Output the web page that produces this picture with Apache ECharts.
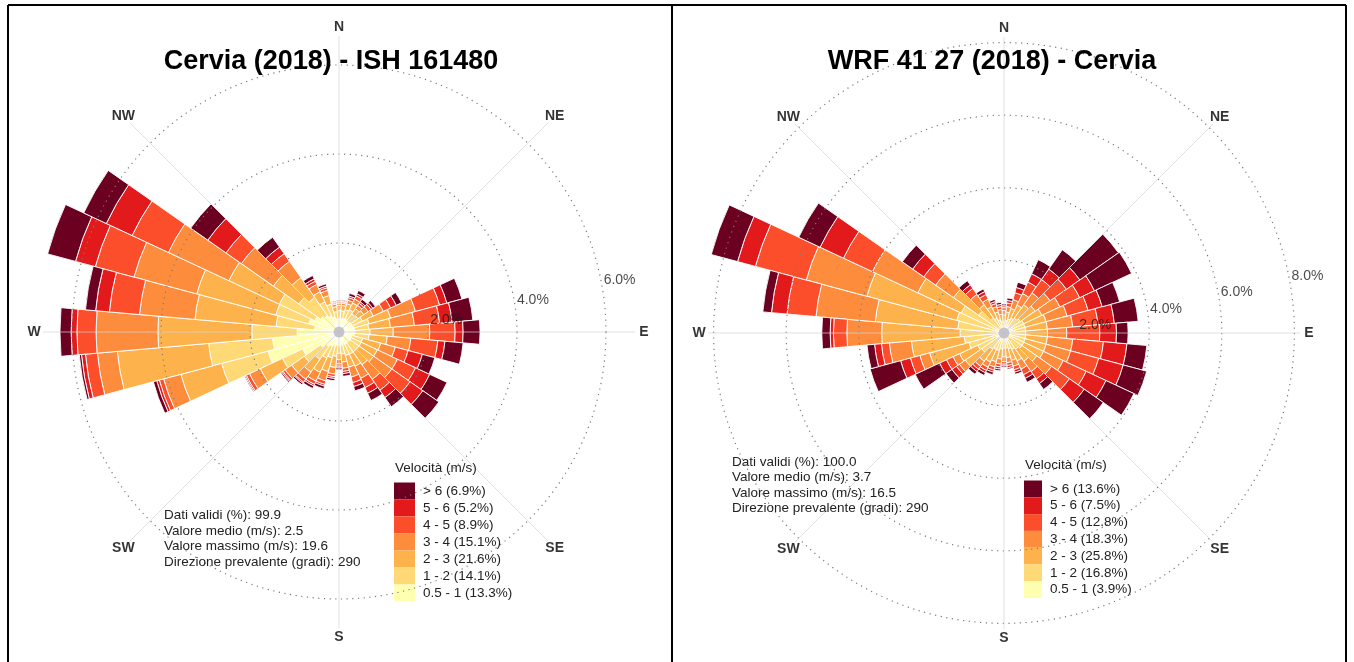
<!DOCTYPE html>
<html>
<head>
<meta charset="utf-8">
<script src="https://cdn.jsdelivr.net/npm/echarts/dist/echarts.min.js"></script>
<style>
html,body{margin:0;padding:0;background:#fff;}
#chart{width:1354px;height:662px;}
</style>
</head>
<body>
<div id="chart"></div>
<script>
// ---------- data ----------
const directions = [0,10,20,30,40,50,60,70,80,90,100,110,120,130,140,150,160,170,180,190,200,210,220,230,240,250,260,270,280,290,300,310,320,330,340,350];
const speedBins = ['0.5 - 1','1 - 2','2 - 3','3 - 4','4 - 5','5 - 6','> 6'];
const binColors = ['#ffffb2','#fed976','#feb24c','#fd8d3c','#fc4e2a','#e31a1c','#6b0021'];
const compassLabels = ['N','NE','E','SE','S','SW','W','NW'];
const compassBearings = [0,45,90,135,180,225,270,315];

// Cervia (2018) - ISH 161480 : frequency (%) per direction, one array per speed class
const cerviaShares = [13.3,14.1,21.6,15.1,8.9,5.2,6.9];
const cerviaB1 = [0.30,0.30,0.32,0.32,0.30,0.32,0.33,0.35,0.35,0.36,0.35,0.30,0.30,0.30,0.30,0.30,0.30,0.30,0.30,0.30,0.32,0.35,0.40,0.50,0.90,1.65,1.50,0.94,0.55,0.70,0.60,0.50,0.45,0.40,0.35,0.30];
const cerviaB2 = [0.18,0.18,0.20,0.23,0.20,0.20,0.25,0.35,0.32,0.34,0.33,0.25,0.25,0.25,0.25,0.25,0.25,0.20,0.18,0.25,0.28,0.30,0.35,0.45,0.50,1.08,1.44,1.02,0.87,0.77,0.88,0.60,0.50,0.35,0.30,0.16];
const cerviaB3 = [0.12,0.12,0.14,0.17,0.14,0.16,0.27,0.50,0.49,0.52,0.41,0.42,0.40,0.40,0.35,0.30,0.27,0.18,0.14,0.25,0.32,0.35,0.35,0.35,0.55,0.95,2.06,2.11,1.83,1.84,1.25,0.70,0.54,0.25,0.20,0.11];
const cerviaB4 = [0.05,0.05,0.08,0.10,0.09,0.12,0.25,0.58,0.54,0.82,0.53,0.34,0.50,0.50,0.40,0.30,0.23,0.14,0.10,0.15,0.22,0.22,0.20,0.18,0.27,0.40,0.45,1.39,1.25,1.46,1.50,0.88,0.45,0.18,0.12,0.06];
const cerviaB5 = [0.03,0.03,0.06,0.08,0.06,0.08,0.18,0.56,0.57,0.57,0.61,0.30,0.45,0.50,0.30,0.23,0.13,0.07,0.05,0.06,0.08,0.08,0.08,0.06,0.08,0.10,0.27,0.43,0.68,0.90,0.90,0.42,0.21,0.08,0.06,0.03];
const cerviaB6 = [0.02,0.02,0.04,0.05,0.04,0.05,0.14,0.17,0.28,0.18,0.16,0.33,0.35,0.35,0.20,0.14,0.09,0.05,0.04,0.04,0.04,0.04,0.03,0.03,0.03,0.06,0.09,0.13,0.31,0.46,0.64,0.50,0.18,0.06,0.04,0.02];
const cerviaB7 = [0.02,0.02,0.06,0.08,0.07,0.07,0.13,0.35,0.47,0.38,0.41,0.29,0.43,0.44,0.25,0.18,0.10,0.06,0.04,0.05,0.06,0.06,0.04,0.03,0.02,0.08,0.05,0.25,0.23,0.65,0.56,0.47,0.27,0.08,0.05,0.02];
const cerviaRings = [2,4,6];
const cerviaStats = ['Dati validi (%): 99.9','Valore medio (m/s): 2.5','Valore massimo (m/s): 19.6','Direzione prevalente (gradi): 290'];

// WRF 41 27 (2018) - Cervia
const wrfShares = [3.9,16.8,25.8,18.3,12.8,7.5,13.6];
const wrfB1 = [0.10,0.10,0.10,0.10,0.10,0.10,0.10,0.10,0.10,0.10,0.10,0.10,0.10,0.10,0.10,0.10,0.10,0.10,0.10,0.10,0.10,0.10,0.10,0.12,0.12,0.12,0.15,0.15,0.15,0.15,0.15,0.12,0.10,0.10,0.10,0.10];
const wrfB2 = [0.22,0.25,0.30,0.35,0.40,0.45,0.50,0.50,0.50,0.50,0.50,0.50,0.50,0.50,0.45,0.40,0.35,0.32,0.32,0.35,0.40,0.40,0.45,0.63,0.68,0.88,0.95,1.06,1.13,1.20,1.15,0.73,0.40,0.35,0.28,0.23];
const wrfB3 = [0.18,0.23,0.30,0.40,0.45,0.50,0.55,0.60,0.60,0.60,0.60,0.60,0.60,0.50,0.40,0.35,0.33,0.26,0.24,0.27,0.32,0.38,0.40,0.55,0.55,1.12,1.46,2.16,2.28,2.56,1.32,0.85,0.45,0.35,0.22,0.19];
const wrfB4 = [0.12,0.15,0.25,0.35,0.40,0.50,0.55,0.60,0.70,0.53,0.70,0.70,0.60,0.50,0.35,0.25,0.17,0.14,0.13,0.14,0.15,0.16,0.17,0.20,0.20,0.28,0.61,0.96,1.64,1.73,1.38,0.60,0.35,0.23,0.15,0.13];
const wrfB5 = [0.08,0.10,0.20,0.35,0.45,0.55,0.60,0.60,0.70,0.91,0.85,0.80,0.70,0.60,0.25,0.17,0.10,0.08,0.07,0.08,0.09,0.10,0.10,0.10,0.20,0.27,0.22,0.37,0.80,1.45,0.88,0.40,0.20,0.14,0.09,0.08];
const wrfB6 = [0.05,0.07,0.15,0.25,0.35,0.45,0.45,0.40,0.45,0.46,0.65,0.70,0.60,0.50,0.15,0.11,0.07,0.06,0.05,0.06,0.06,0.07,0.08,0.15,0.21,0.28,0.19,0.09,0.43,0.51,0.71,0.37,0.12,0.09,0.06,0.06];
const wrfB7 = [0.05,0.07,0.15,0.43,0.65,1.30,1.13,0.50,0.66,0.32,0.55,0.67,0.85,0.64,0.20,0.12,0.06,0.04,0.04,0.05,0.07,0.08,0.09,0.20,0.74,0.87,0.21,0.23,0.24,0.75,0.65,0.35,0.14,0.08,0.06,0.06];
const wrfRings = [2,4,6,8];
const wrfStats = ['Dati validi (%): 100.0','Valore medio (m/s): 3.7','Valore massimo (m/s): 16.5','Direzione prevalente (gradi): 290'];

// ---------- layout ----------
const FONT = '"Liberation Sans", Arial, Helvetica, sans-serif';
const roses = [
  {title:'Cervia (2018) - ISH 161480', titleX:331, center:[339,332], pxPerPct:44.5,
   bins:[cerviaB1,cerviaB2,cerviaB3,cerviaB4,cerviaB5,cerviaB6,cerviaB7], shares:cerviaShares, rings:cerviaRings,
   stats:cerviaStats, statsX:164, statsY:507.5, legX:394, legY:482.5, legW:21, legH:17, legTitleX:395, legTitleY:468},
  {title:'WRF 41 27 (2018) - Cervia', titleX:992, center:[1004,333], pxPerPct:36.3,
   bins:[wrfB1,wrfB2,wrfB3,wrfB4,wrfB5,wrfB6,wrfB7], shares:wrfShares, rings:wrfRings,
   stats:wrfStats, statsX:732, statsY:454, legX:1024, legY:480.5, legW:18, legH:16.8, legTitleX:1025, legTitleY:465}
];
const BAR_R = 330, SPOKE_R = 296, LABEL_R = 305;

const polar = [], angleAxis = [], radiusAxis = [], series = [], legend = [], graphic = [];
const hiddenAngle = (pi) => ({polarIndex:pi, type:'value', min:0, max:360, startAngle:90, clockwise:true, show:false});

roses.forEach((r, k) => {
  const pBar = k*4, pSpoke = k*4+1, pRing = k*4+2, pLab = k*4+3;
  const ringMax = r.rings[r.rings.length-1];
  polar.push({center:r.center, radius:BAR_R});
  polar.push({center:r.center, radius:SPOKE_R});
  polar.push({center:r.center, radius:ringMax*r.pxPerPct});
  polar.push({center:r.center, radius:LABEL_R});

  // bars
  angleAxis.push({polarIndex:pBar, type:'category', data:directions, startAngle:95, clockwise:true, show:false});
  radiusAxis.push({polarIndex:pBar, type:'value', min:0, max:BAR_R/r.pxPerPct, show:false});
  // spokes
  angleAxis.push({polarIndex:pSpoke, type:'value', min:0, max:360, interval:45, startAngle:90, clockwise:true, z:5,
    axisLine:{show:false}, axisTick:{show:false}, axisLabel:{show:false},
    splitLine:{show:true, lineStyle:{color:'rgba(212,212,212,0.7)', width:1}}});
  radiusAxis.push({polarIndex:pSpoke, type:'value', min:0, max:1, show:false});
  // dotted rings
  angleAxis.push(hiddenAngle(pRing));
  radiusAxis.push({polarIndex:pRing, type:'value', min:0, max:ringMax, interval:2, z:5,
    axisLine:{show:false}, axisTick:{show:false}, axisLabel:{show:false},
    splitLine:{show:true, lineStyle:{color:'#7a7a7a', width:1.2, type:[1.2,4.5]}}});
  // compass labels
  angleAxis.push(hiddenAngle(pLab));
  radiusAxis.push({polarIndex:pLab, type:'value', min:0, max:1, show:false});

  const names = speedBins.map((b,i)=> b + ' (' + r.shares[i].toFixed(1) + '%)');
  r.bins.forEach((arr, i) => {
    series.push({type:'bar', name:names[i], coordinateSystem:'polar', polarIndex:pBar, stack:'rose'+k,
      data:arr, barCategoryGap:'0%', color:binColors[i],
      itemStyle:{color:binColors[i], borderColor:'#ffffff', borderWidth:0.9}, silent:true, animation:false});
  });
  // ring labels
  series.push({type:'scatter', coordinateSystem:'polar', polarIndex:pRing, symbolSize:1, z:6, silent:true, animation:false,
    itemStyle:{color:'rgba(0,0,0,0)'},
    data:r.rings.map(v=>[v,77]),
    label:{show:true, position:[5,2], align:'left', verticalAlign:'top', fontSize:14, color:'#1a1a1a', fontFamily:FONT,
      formatter:(p)=>p.value[0].toFixed(1)+'%'}});
  // centre dot
  series.push({type:'scatter', coordinateSystem:'polar', polarIndex:pRing, symbolSize:11, z:7, silent:true, animation:false,
    itemStyle:{color:'#b8b8c0'}, data:[[0,0]]});
  // compass labels
  series.push({type:'scatter', coordinateSystem:'polar', polarIndex:pLab, symbolSize:1, z:6, silent:true, animation:false,
    itemStyle:{color:'rgba(0,0,0,0)'},
    data:compassBearings.map(b=>[1,b]),
    label:{show:true, position:'inside', align:'center', verticalAlign:'middle', fontSize:14, fontWeight:'bold', color:'#000', fontFamily:FONT,
      formatter:(p)=>compassLabels[p.dataIndex]}});

  legend.push({data:names.slice().reverse(), orient:'vertical', left:r.legX, top:r.legY, itemWidth:r.legW, itemHeight:r.legH,
    itemGap:0, icon:'rect', selectedMode:false, padding:0, itemStyle:{borderWidth:0},
    textStyle:{fontSize:13.5, color:'#222', fontFamily:FONT, padding:[0,0,0,3]}});

  graphic.push({type:'text', x:r.titleX, y:62, z:10, style:{text:r.title, font:'bold 27px '+FONT, fill:'#000', align:'center', verticalAlign:'middle'}});
  graphic.push({type:'text', x:r.statsX, y:r.statsY, z:10, style:{text:r.stats.join('\n'), font:'13.5px '+FONT, lineHeight:15.6, fill:'#222', align:'left', verticalAlign:'top'}});
  graphic.push({type:'text', x:r.legTitleX, y:r.legTitleY, z:10, style:{text:'Velocità (m/s)', font:'13.5px '+FONT, fill:'#222', align:'left', verticalAlign:'middle'}});
});

// panel frames
[[8,5,1346,5],[8,5,8,662],[672,5,672,662],[1346,5,1346,662]].forEach(l=>{
  graphic.push({type:'line', z:20, shape:{x1:l[0],y1:l[1],x2:l[2],y2:l[3]}, style:{stroke:'#000', lineWidth:2}});
});

const chart = echarts.init(document.getElementById('chart'), null, {renderer:'canvas'});
chart.setOption({
  animation:false,
  backgroundColor:'#ffffff',
  textStyle:{fontFamily:FONT},
  polar, angleAxis, radiusAxis, series, legend, graphic
});
</script>
</body>
</html>
